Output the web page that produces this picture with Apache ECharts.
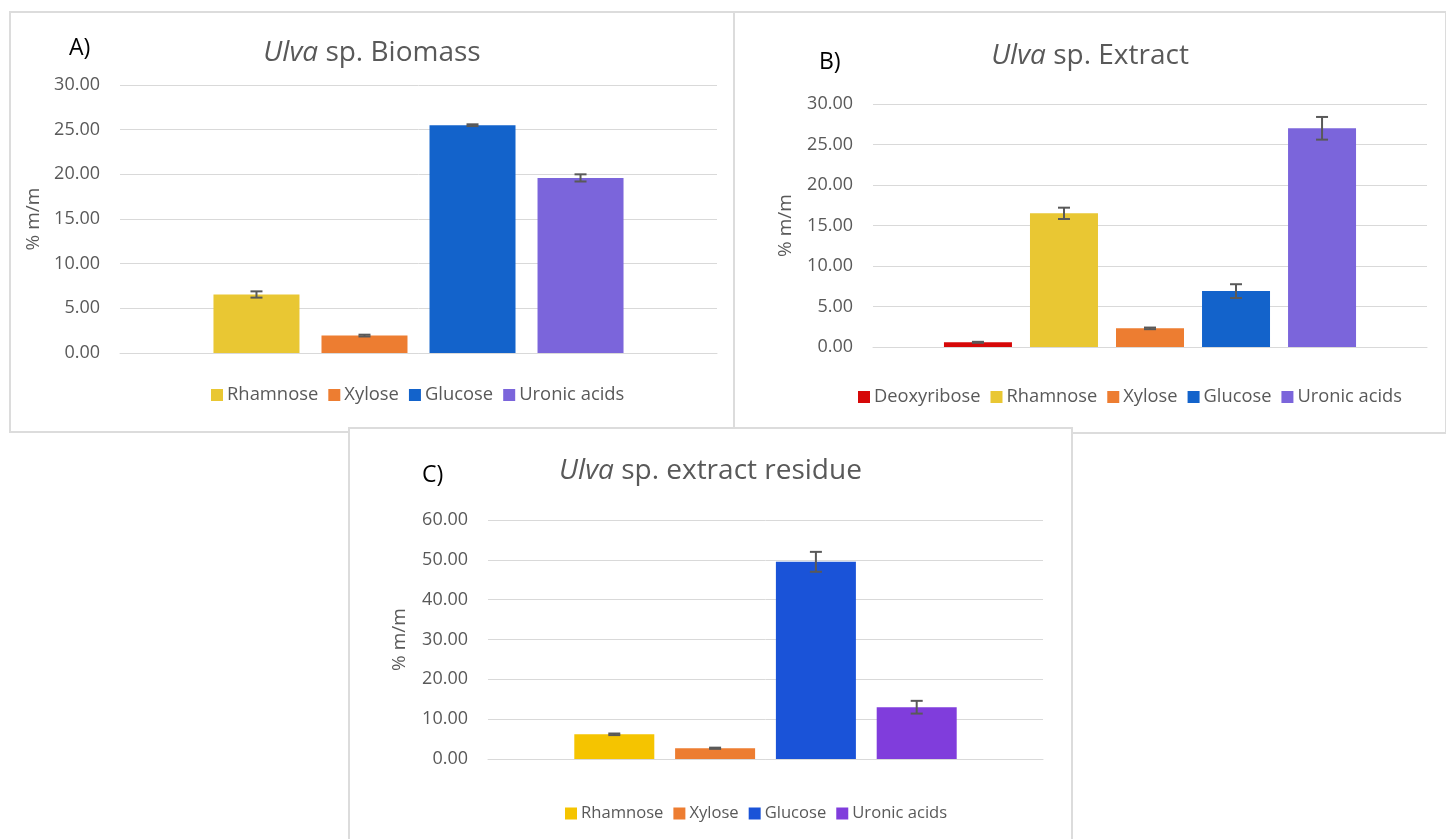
<!DOCTYPE html>
<html>
<head>
<meta charset="utf-8">
<script src="https://cdn.jsdelivr.net/npm/echarts@6/dist/echarts.min.js"></script>
<style>
  html, body { margin: 0; padding: 0; background: #ffffff; width: 1446px; height: 839px; overflow: hidden; }
  .panel { position: absolute; box-sizing: border-box; border: 2px solid #DCDCDC; background: #ffffff; }
  #pa { left: 9px; top: 11px; width: 726px; height: 422px; z-index: 1; }
  #pb { left: 733px; top: 11px; width: 714px; height: 423px; z-index: 1; }
  #pc { left: 348px; top: 427px; width: 725px; height: 430px; z-index: 2; }
</style>
</head>
<body>
<div id="pa" class="panel"></div>
<div id="pb" class="panel"></div>
<div id="pc" class="panel"></div>
<script>
// ---------- Data ----------
const namesA  = ['Rhamnose', 'Xylose', 'Glucose', 'Uronic acids'];
const valuesA = [6.55, 1.95, 25.5, 19.6];
const errorsA = [0.35, 0.1, 0.1, 0.4];
const colorsA = ['#E9C733', '#ED7D31', '#1363CB', '#7B65DB'];

const namesB  = ['Deoxyribose', 'Rhamnose', 'Xylose', 'Glucose', 'Uronic acids'];
const valuesB = [0.58, 16.5, 2.3, 6.9, 27.0];
const errorsB = [0.06, 0.7, 0.1, 0.85, 1.4];
const colorsB = ['#D60808', '#E9C733', '#ED7D31', '#1363CB', '#7B65DB'];

const namesC  = ['Rhamnose', 'Xylose', 'Glucose', 'Uronic acids'];
const valuesC = [6.2, 2.7, 49.5, 13.0];
const errorsC = [0.2, 0.15, 2.5, 1.6];
const colorsC = ['#F5C400', '#ED7D31', '#1A53D8', '#803DDC'];

const yTicksA = { min: 0, max: 30, interval: 5 };
const yTicksB = { min: 0, max: 30, interval: 5 };
const yTicksC = { min: 0, max: 60, interval: 10 };

const FONT = '"Open Sans", "Noto Sans", sans-serif';
const GREY = '#595959';

function makeOption(cfg) {
  const n = cfg.names.length;
  const step = cfg.barWidth * (1 + cfg.gapRatio);
  const series = cfg.names.map((nm, i) => ({
    name: nm,
    type: 'bar',
    barWidth: cfg.barWidth,
    barGap: (cfg.gapRatio * 100) + '%',
    itemStyle: { color: cfg.colors[i] },
    data: [cfg.values[i]],
    emphasis: { disabled: true },
    z: 2
  }));
  series.push({
    name: 'errors',
    type: 'custom',
    z: 5,
    silent: true,
    encode: { x: 0, y: 1 },
    data: cfg.values.map((v, i) => [0, v, cfg.errors[i], i]),
    renderItem: function (params, api) {
      const idx = api.value(3);
      const v = api.value(1), e = api.value(2);
      const base = api.coord([api.value(0), v]);
      const xc = base[0] + (idx - (n - 1) / 2) * step;
      const yHi = api.coord([0, v + e])[1];
      const yLo = api.coord([0, v - e])[1];
      const cap = 6;
      const st = { stroke: '#595959', lineWidth: 2 };
      return {
        type: 'group',
        children: [
          { type: 'line', shape: { x1: xc, y1: yHi, x2: xc, y2: yLo }, style: st },
          { type: 'line', shape: { x1: xc - cap, y1: yHi, x2: xc + cap, y2: yHi }, style: st },
          { type: 'line', shape: { x1: xc - cap, y1: yLo, x2: xc + cap, y2: yLo }, style: st }
        ]
      };
    }
  });
  return {
    animation: false,
    textStyle: { fontFamily: FONT },
    title: [
      {
        text: '{i|Ulva} sp. ' + cfg.titleRest,
        left: 'center',
        top: cfg.titleTop,
        textStyle: {
          fontFamily: FONT, fontSize: 28, fontWeight: 'normal', color: GREY,
          rich: { i: { fontFamily: FONT, fontSize: 28, fontStyle: 'italic', color: GREY } }
        }
      },
      {
        text: cfg.tag,
        left: cfg.tagLeft,
        top: cfg.tagTop,
        textStyle: { fontFamily: FONT, fontSize: 23, fontWeight: 'normal', color: '#000000' }
      }
    ],
    legend: {
      data: cfg.names,
      left: cfg.legendLeft,
      top: cfg.legendTop,
      padding: 0,
      itemWidth: 12,
      itemHeight: 12,
      itemGap: 10,
      icon: 'rect',
      selectedMode: false,
      textStyle: { fontFamily: FONT, fontSize: cfg.legendFont, color: GREY, padding: [0, 0, 0, -1] }
    },
    grid: cfg.grid,
    xAxis: {
      type: 'category',
      data: [''],
      axisLine: { lineStyle: { color: '#D9D9D9', width: 1 } },
      axisTick: { show: false },
      axisLabel: { show: false },
      splitLine: { show: false }
    },
    yAxis: {
      type: 'value',
      min: cfg.ticks.min,
      max: cfg.ticks.max,
      interval: cfg.ticks.interval,
      name: '% m/m',
      nameLocation: 'middle',
      nameGap: cfg.nameGap,
      nameTextStyle: { fontFamily: FONT, fontSize: 19, color: GREY },
      axisLine: { show: false },
      axisTick: { show: false },
      axisLabel: {
        fontFamily: FONT, fontSize: 18, color: GREY, margin: 20,
        formatter: v => v.toFixed(2)
      },
      splitLine: { lineStyle: { color: '#D9D9D9', width: 1 } }
    },
    series: series
  };
}

const chartA = echarts.init(document.getElementById('pa'), null, { renderer: 'canvas' });
chartA.setOption(makeOption({
  names: namesA, values: valuesA, errors: errorsA, colors: colorsA, ticks: yTicksA,
  titleRest: 'Biomass', titleTop: 21, tag: 'A)', tagLeft: 53, tagTop: 19,
  legendLeft: 200, legendTop: 373, legendFont: 18.4,
  grid: { left: 109, top: 72, width: 597, height: 268 },
  barWidth: 86, gapRatio: 0.256, nameGap: 76
}));

const chartB = echarts.init(document.getElementById('pb'), null, { renderer: 'canvas' });
chartB.setOption(makeOption({
  names: namesB, values: valuesB, errors: errorsB, colors: colorsB, ticks: yTicksB,
  titleRest: 'Extract', titleTop: 24, tag: 'B)', tagLeft: 79, tagTop: 33,
  legendLeft: 123, legendTop: 375, legendFont: 18.3,
  grid: { left: 138, top: 91, width: 554, height: 243 },
  barWidth: 68, gapRatio: 0.265, nameGap: 78
}));

const chartC = echarts.init(document.getElementById('pc'), null, { renderer: 'canvas' });
chartC.setOption(makeOption({
  names: namesC, values: valuesC, errors: errorsC, colors: colorsC, ticks: yTicksC,
  titleRest: 'extract residue', titleTop: 23, tag: 'C)', tagLeft: 67, tagTop: 30,
  legendLeft: 215, legendTop: 376, legendFont: 16.6,
  grid: { left: 138, top: 91, width: 555, height: 239 },
  barWidth: 80, gapRatio: 0.26, nameGap: 79
}));
</script>
</body>
</html>
